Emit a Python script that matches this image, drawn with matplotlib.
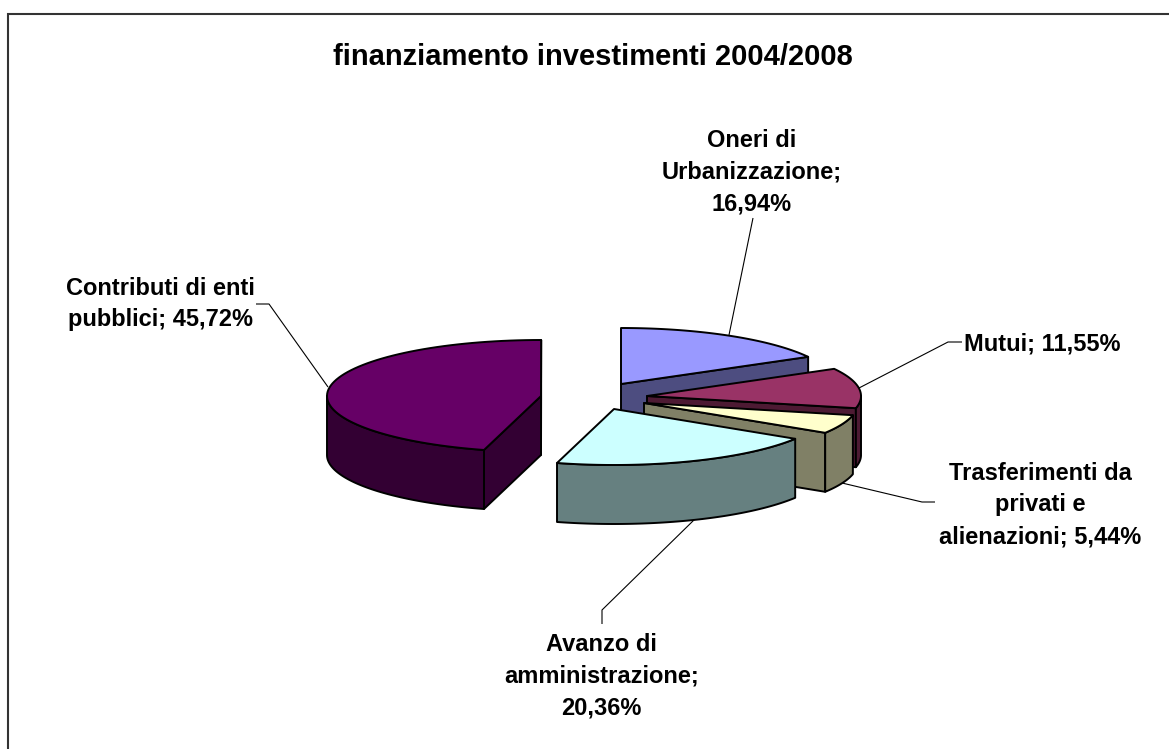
import numpy as np
import matplotlib
matplotlib.use("Agg")
import matplotlib.pyplot as plt
from matplotlib.patches import Polygon

# ---- data ----
categories = ["Oneri di Urbanizzazione", "Mutui", "Trasferimenti da privati e alienazioni",
              "Avanzo di amministrazione", "Contributi di enti pubblici"]
shares = [16.94, 11.55, 5.44, 20.36, 45.72]
label_texts = ["Oneri di\nUrbanizzazione;\n16,94%", "Mutui; 11,55%",
               "Trasferimenti da\nprivati e\nalienazioni; 5,44%",
               "Avanzo di\namministrazione;\n20,36%", "Contributi di enti\npubblici; 45,72%"]
title_text = "finanziamento investimenti 2004/2008"

# ---- styles and layout (pixels) ----
top_colors = ["#9999FF", "#993366", "#FFFFCC", "#CCFFFF", "#660066"]
side_colors = ["#4D4D80", "#4D1A33", "#808066", "#668080", "#330033"]
apexes = [(621, 384), (647, 396), (644, 403), (614, 409), (541, 396)]
label_pos = [(752, 172), (1042, 344), (1040, 505), (601.5, 676), (160, 304)]
leaders = [[(753, 218), (729, 335)],
           [(962, 342), (948, 342), (859, 388)],
           [(935, 502), (922, 502), (842, 483)],
           [(602, 624), (602, 610), (695, 519)],
           [(256, 304), (269, 304), (328, 387)]]
RX, RY, DEPTH = 214, 56, 59
W, H = 1169, 749

fig = plt.figure(figsize=(W / 100, H / 100), dpi=100, facecolor="white")
ax = fig.add_axes([0, 0, 1, 1])
ax.set_xlim(0, W)
ax.set_ylim(H, 0)
ax.axis("off")
plt.rcParams["font.family"] = ["Liberation Sans", "DejaVu Sans"]


def rim(apex, a, b, n=80):
    t = np.radians(np.linspace(a, b, n))
    return np.column_stack([apex[0] + RX * np.sin(t), apex[1] - RY * np.cos(t)])


def face(pts, color, z):
    ax.add_patch(Polygon(pts, closed=True, facecolor=color, edgecolor="black",
                         linewidth=1.4, joinstyle="round", zorder=z))


down = np.array([0, DEPTH])
start = 0.0
for i, share in enumerate(shares):
    end = start + share * 3.6
    apex = np.array(apexes[i], dtype=float)
    z = 2 + i * 0.1 if i < 4 else 2
    # cut faces looking at the viewer
    for ang, visible in ((start, np.sin(np.radians(start)) < -1e-6),
                         (end, np.sin(np.radians(end)) > 1e-6)):
        if visible:
            p = rim(apex, ang, ang, 1)[0]
            face([apex, p, p + down, apex + down], side_colors[i], z)
    # outer wall, only the part on the near half of the ellipse
    lo, hi = max(start, 90), min(end, 270)
    if hi > lo:
        arc = rim(apex, lo, hi)
        face(np.vstack([arc, (arc + down)[::-1]]), side_colors[i], z + 0.01)
    # top
    face(np.vstack([[apex], rim(apex, start, end)]), top_colors[i], z + 0.02)
    start = end

for seg in leaders:
    xy = np.array(seg)
    ax.plot(xy[:, 0], xy[:, 1], color="black", lw=0.8, zorder=1, solid_capstyle="butt")

for txt, (x, y) in zip(label_texts, label_pos):
    ax.text(x, y, txt, ha="center", va="center", fontsize=17, fontweight="bold",
            linespacing=1.48, color="black")

ax.text(593, 57, title_text, ha="center", va="center", fontsize=21, fontweight="bold", color="black")

# chart area border: only top and left are inside the picture
ax.plot([8, 8, W], [H, 13.5, 13.5], color="#333333", lw=1.5, solid_joinstyle="miter", zorder=0)

fig.savefig("out.png", dpi=100, facecolor="white")
